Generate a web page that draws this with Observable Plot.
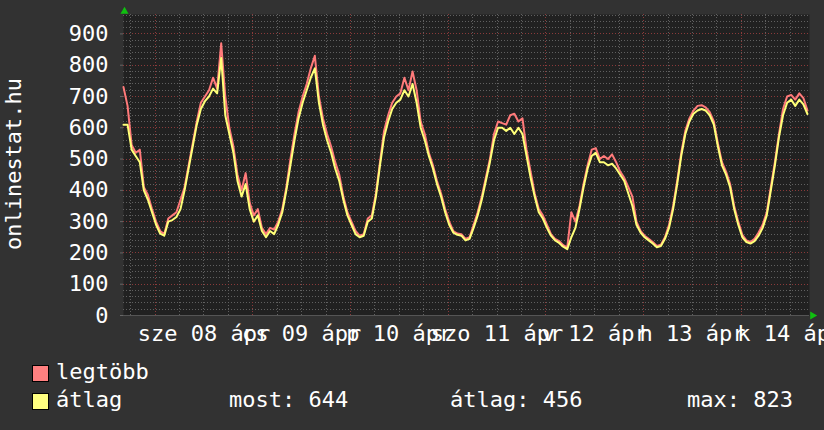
<!DOCTYPE html>
<html><head><meta charset="utf-8">
<script src="https://cdn.jsdelivr.net/npm/d3@7"></script>
<script src="https://cdn.jsdelivr.net/npm/@observablehq/plot@0.6"></script>
<style>
html,body{margin:0;padding:0;background:#323232;}
body{width:824px;height:430px;overflow:hidden;position:relative;font-family:"DejaVu Sans Mono",monospace;}
#ylabel{position:absolute;left:14.4px;top:164px;transform:translate(-50%,-50%) rotate(-90deg);color:#fff;font-size:22px;line-height:22px;white-space:nowrap;}
#legend{position:absolute;left:0;top:345px;width:824px;height:85px;color:#fff;font-size:22px;}
.sw{position:absolute;width:15px;height:15px;border:1px solid #000;}
.t{position:absolute;white-space:nowrap;line-height:22px;}
</style></head><body>
<div id="chart"></div>
<div id="ylabel">onlinestat.hu</div>
<div id="legend"></div>
<script>
// ---- data (hourly, starting 2015-04-07 16:15 UTC) ----
const seriesNames = ["legtöbb", "átlag"];
const seriesColors = ["#ff7a7a", "#ffff78"];
const swatchColors = ["#ff8080", "#ffff80"];
const maxValues = [
  730, 670, 545, 520, 530, 410, 385, 340, 300, 270,
  260, 310, 320, 330, 370, 410, 480, 550, 620, 680,
  700, 720, 760, 725, 870, 700, 600, 540, 450, 400,
  455, 360, 320, 340, 280, 260, 280, 275, 300, 340,
  410, 500, 580, 650, 700, 740, 790, 830, 700, 630,
  580, 540, 490, 450, 380, 330, 300, 270, 255, 260,
  310, 320, 390, 490, 590, 640, 680, 700, 710, 760,
  720, 780, 720, 620, 580, 520, 480, 430, 390, 340,
  300, 270, 262, 260, 245, 250, 290, 330, 380, 440,
  500, 580, 620, 615, 610, 640, 645, 620, 630, 530,
  460, 390, 340, 320, 290, 260, 245, 238, 225, 218,
  330, 300, 350, 420, 480, 530, 535, 500, 510, 500,
  515, 490, 460, 440, 410, 380, 300, 270, 255, 245,
  235, 222, 226, 250, 290, 350, 430, 520, 590, 630,
  655, 670, 672, 665, 650, 620, 550, 490, 460, 420,
  350, 300, 258, 240, 235, 245, 265, 290, 330, 410,
  490, 580, 660, 700, 705, 690, 710, 695, 655
];
const avgValues = [
  610, 610, 530, 510, 490, 400, 370, 330, 290, 262,
  255, 300, 305, 315, 340, 400, 470, 540, 610, 660,
  685, 700, 725, 710, 823, 640, 580, 520, 430, 380,
  420, 340, 300, 320, 270, 250, 270, 260, 290, 330,
  400, 480, 560, 630, 680, 720, 760, 790, 680, 610,
  560, 520, 470, 430, 370, 320, 290, 260, 250, 255,
  300, 310, 380, 480, 570, 620, 660, 680, 690, 720,
  700, 740, 680, 600, 560, 510, 470, 420, 380, 330,
  290, 265, 258, 255, 240, 245, 280, 320, 370, 430,
  490, 560, 600, 600, 590, 600, 580, 600, 580, 510,
  440, 380, 330, 310, 280, 255, 240, 232, 220, 212,
  250, 280, 340, 410, 470, 510, 520, 490, 490, 480,
  485, 470, 450, 430, 390, 350, 290, 265, 250, 240,
  230, 218, 222, 245, 280, 340, 420, 510, 580, 620,
  645, 655, 660, 655, 640, 610, 540, 480, 450, 410,
  340, 290, 250, 235, 230, 238, 255, 280, 320, 400,
  480, 570, 640, 680, 690, 670, 690, 675, 644
];
const xLabels = ["sze 08 ápr", "cs 09 ápr", "p 10 ápr", "szo 11 ápr", "v 12 ápr", "h 13 ápr", "k 14 ápr"];
const xLabelDays = ["2015-04-08", "2015-04-09", "2015-04-10", "2015-04-11", "2015-04-12", "2015-04-13", "2015-04-14"];
const yTicks = [0, 100, 200, 300, 400, 500, 600, 700, 800, 900];
const stats = [["most", 644], ["átlag", 456], ["max", 823]];

// ---- build ----
const HOUR = 3600e3;
const start = Date.UTC(2015, 3, 7, 16, 15);
const rows = avgValues.map((v, i) => ({t: new Date(start + i * HOUR), avg: v, max: maxValues[i]}));
const x0 = new Date(start), x1 = new Date(start + 168.5 * HOUR);
const yMax = 962;
const minorX = d3.utcHour.every(6).range(x0, x1).filter(d => d.getUTCHours() !== 0);
const majorX = d3.utcDay.range(x0, x1).filter(d => d > x0);
const minorY = d3.range(20, yMax, 20).filter(v => v % 100 !== 0);
const majorY = d3.range(100, yMax, 100);
const labelTimes = xLabelDays.map(s => new Date(s + "T12:00:00Z"));
const labelMap = new Map(labelTimes.map((d, i) => [+d, xLabels[i]]));

const chart = Plot.plot({
  width: 824, height: 345,
  marginLeft: 123, marginRight: 15, marginTop: 14, marginBottom: 30,
  style: {background: "transparent", color: "#fff", fontFamily: "DejaVu Sans Mono, monospace", fontSize: "22px"},
  x: {type: "utc", domain: [x0, x1]},
  y: {domain: [0, yMax]},
  marks: [
    Plot.frame({fill: "#212121", stroke: null}),
    Plot.ruleY(minorY, {stroke: "#606060", strokeDasharray: "1,2", shapeRendering: "crispEdges"}),
    Plot.ruleX(minorX, {stroke: "#606060", strokeDasharray: "1,2", shapeRendering: "crispEdges"}),
    Plot.ruleY(majorY, {stroke: "#8a3a3a", strokeDasharray: "1,2", shapeRendering: "crispEdges"}),
    Plot.ruleX(majorX, {stroke: "#8a3a3a", strokeDasharray: "1,2", shapeRendering: "crispEdges"}),
    Plot.ruleY([0], {stroke: "#555", shapeRendering: "crispEdges"}),
    Plot.axisY({ticks: yTicks, tickSize: 3, tickPadding: 12, stroke: "#666", label: null, fill: "#fff"}),
    Plot.axisX({ticks: labelTimes, tickFormat: d => labelMap.get(+d), tickSize: 0, tickPadding: 10, label: null, fill: "#fff"}),
    Plot.lineY(rows, {x: "t", y: "max", stroke: seriesColors[0], strokeWidth: 2, curve: "linear"}),
    Plot.lineY(rows, {x: "t", y: "avg", stroke: seriesColors[1], strokeWidth: 2, curve: "linear"}),
    Plot.dot([0], {frameAnchor: "top-left", symbol: "triangle", r: 3, fill: "#10c010", stroke: null, dx: 1, dy: -3}),
    Plot.dot([0], {frameAnchor: "bottom-right", symbol: "triangle", r: 3, fill: "#10c010", stroke: null, dx: 3, rotate: 90})
  ]
});
document.getElementById("chart").appendChild(chart);

// ---- legend ----
const lg = document.getElementById("legend");
function add(cls, css, text) {
  const el = document.createElement("div");
  el.className = cls;
  Object.assign(el.style, css);
  if (text != null) el.textContent = text;
  lg.appendChild(el);
}
seriesNames.forEach((name, i) => {
  add("sw", {left: "32px", top: (20 + i * 28) + "px", background: swatchColors[i]});
  add("t", {left: "56px", top: (16.4 + i * 28) + "px"}, name);
});
const statX = [229, 450, 687];
stats.forEach(([k, v], i) => add("t", {left: statX[i] + "px", top: "44.4px"}, `${k}: ${v}`));
</script>
</body></html>
